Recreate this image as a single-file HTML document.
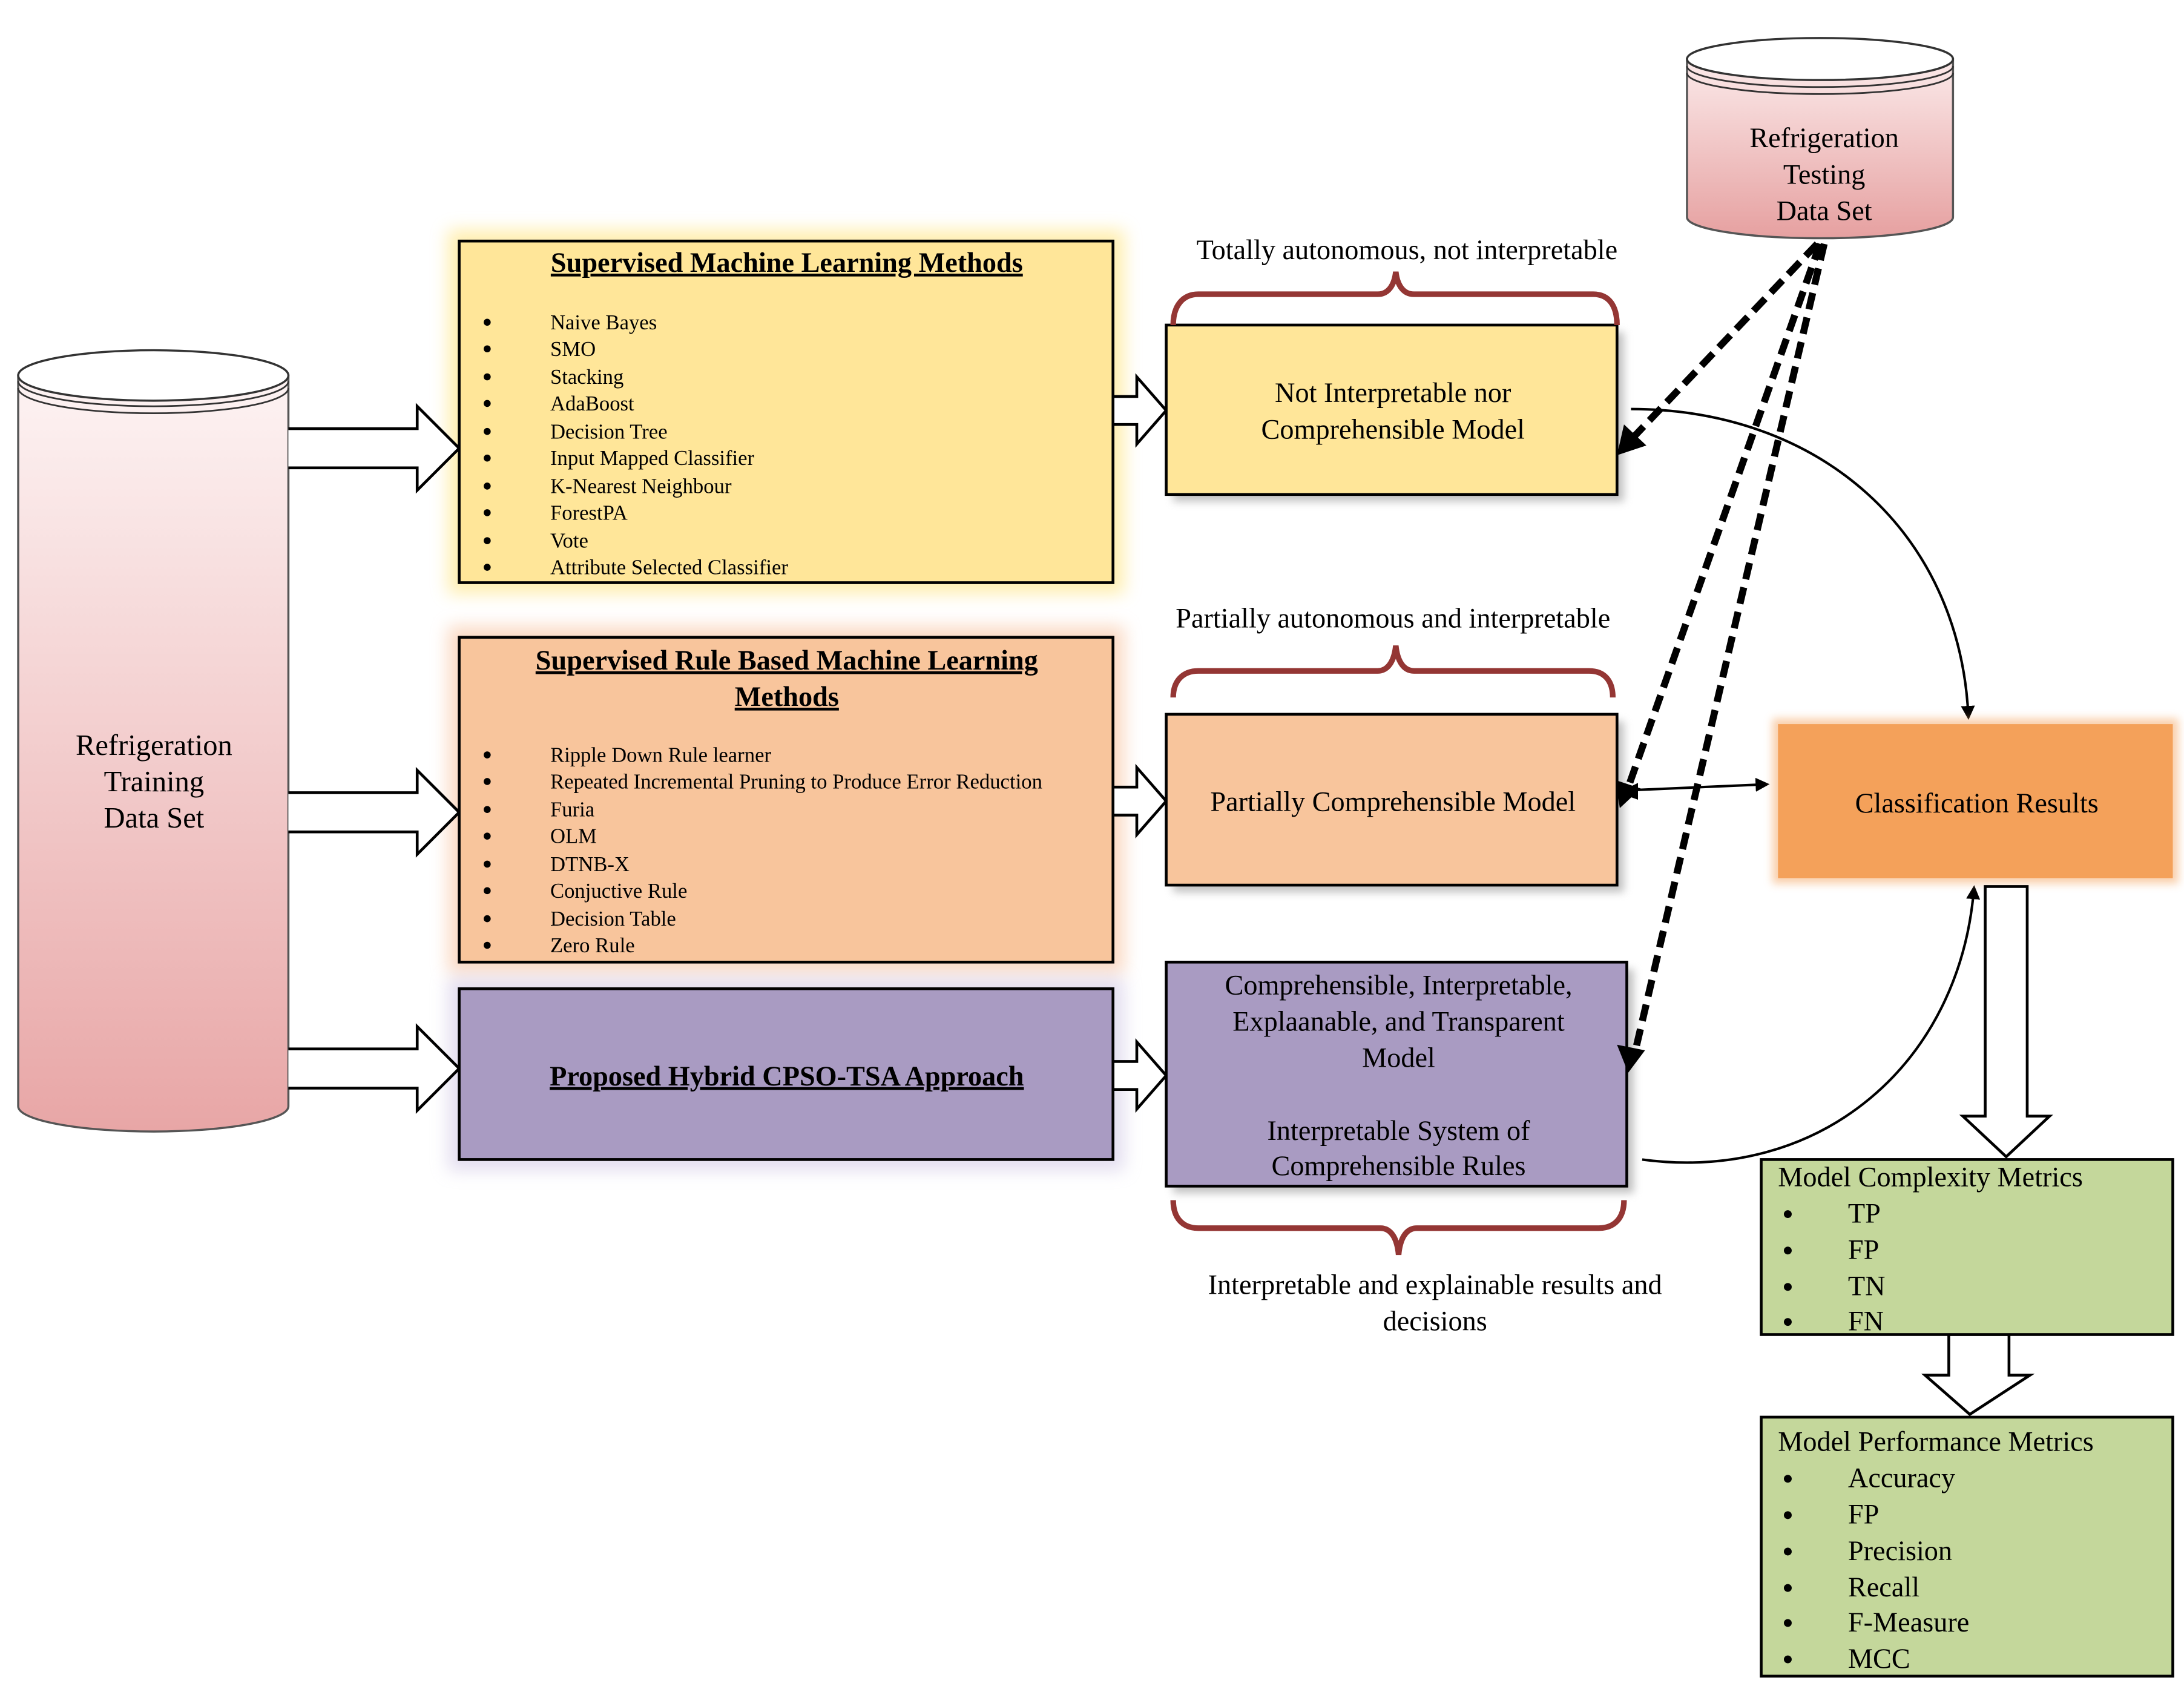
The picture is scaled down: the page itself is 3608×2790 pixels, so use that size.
<!DOCTYPE html>
<html><head><meta charset="utf-8"><style>
html,body{margin:0;padding:0;background:#fff;}
svg{display:block;}
text{font-family:"Liberation Serif",serif;fill:#000;}
</style></head><body>
<svg width="3608" height="2790" viewBox="0 0 1560 1206" xmlns="http://www.w3.org/2000/svg">
<defs>
<linearGradient id="cyl" x1="0" y1="0" x2="0" y2="1">
<stop offset="0" stop-color="#fdf3f3"/><stop offset="1" stop-color="#e8a6a6"/></linearGradient>
<linearGradient id="cyl2" x1="0" y1="0" x2="0" y2="1">
<stop offset="0" stop-color="#fbeaea"/><stop offset="1" stop-color="#e6a0a0"/></linearGradient>
<filter id="glowY" x="-10%" y="-10%" width="120%" height="120%"><feGaussianBlur stdDeviation="6"/></filter>
<filter id="sh" x="-10%" y="-10%" width="130%" height="130%"><feGaussianBlur stdDeviation="3"/></filter>
<marker id="ah" markerWidth="10" markerHeight="10" refX="8" refY="5" orient="auto" markerUnits="userSpaceOnUse"><path d="M0,0 L10,5 L0,10 Z" fill="#000"/></marker>
<marker id="ahb" markerWidth="18" markerHeight="18" refX="14" refY="9" orient="auto" markerUnits="userSpaceOnUse"><path d="M0,0 L18,9 L0,18 Z" fill="#000"/></marker>
</defs>

<!-- glows -->
<rect x="320" y="164" width="483" height="260" fill="#ffe37a" opacity="0.6" filter="url(#glowY)"/>
<rect x="320" y="447" width="483" height="248" fill="#f6b58a" opacity="0.5" filter="url(#glowY)"/>
<rect x="320" y="698" width="483" height="138" fill="#c8bde0" opacity="0.5" filter="url(#glowY)"/>

<!-- left cylinder -->
<path d="M13,268 L13,790 A96.5,18 0 0 0 206,790 L206,268 Z" fill="url(#cyl)" stroke="#555" stroke-width="1.5"/>
<ellipse cx="109.5" cy="268" rx="96.5" ry="18" fill="#fff" stroke="#333" stroke-width="1.5"/>
<path d="M13,272 A96.5,18 0 0 0 206,272 M13,277 A96.5,18 0 0 0 206,277" fill="none" stroke="#333" stroke-width="1.2"/>
<g font-size="21" text-anchor="middle">
<text x="110" y="539">Refrigeration</text><text x="110" y="565">Training</text><text x="110" y="591">Data Set</text></g>

<!-- block arrows from cylinder -->
<g fill="#fff" stroke="#000" stroke-width="2">
<path d="M206,306 L298,306 L298,290 L328,320 L298,350 L298,334 L206,334"/>
<path d="M206,566 L298,566 L298,550 L328,580 L298,610 L298,594 L206,594"/>
<path d="M206,749 L298,749 L298,733 L328,763 L298,793 L298,777 L206,777"/>
<path d="M796,283 L812,283 L812,269 L833,293 L812,317 L812,303 L796,303"/>
<path d="M796,562 L812,562 L812,548 L833,572 L812,596 L812,582 L796,582"/>
<path d="M796,758 L812,758 L812,744 L833,768 L812,792 L812,778 L796,778"/>
</g>

<!-- Box1 -->
<rect x="328" y="172" width="467" height="244" fill="#ffe699" stroke="#000" stroke-width="2"/>
<text x="562" y="194" font-size="20" font-weight="bold" text-anchor="middle" text-decoration="underline">Supervised Machine Learning Methods</text>
<g font-size="15">
<text x="393" y="235">Naive Bayes</text><text x="393" y="254">SMO</text><text x="393" y="274">Stacking</text><text x="393" y="293">AdaBoost</text><text x="393" y="313">Decision Tree</text><text x="393" y="332">Input Mapped Classifier</text><text x="393" y="352">K-Nearest Neighbour</text><text x="393" y="371">ForestPA</text><text x="393" y="391">Vote</text><text x="393" y="410">Attribute Selected Classifier</text>
</g>
<g fill="#000"><circle cx="348" cy="230" r="2.5"/><circle cx="348" cy="249" r="2.5"/><circle cx="348" cy="269" r="2.5"/><circle cx="348" cy="288" r="2.5"/><circle cx="348" cy="308" r="2.5"/><circle cx="348" cy="327" r="2.5"/><circle cx="348" cy="347" r="2.5"/><circle cx="348" cy="366" r="2.5"/><circle cx="348" cy="386" r="2.5"/><circle cx="348" cy="405" r="2.5"/></g>

<!-- Box2 -->
<rect x="328" y="455" width="467" height="232" fill="#f8c59c" stroke="#000" stroke-width="2"/>
<text x="562" y="478" font-size="20" font-weight="bold" text-anchor="middle" text-decoration="underline">Supervised Rule Based Machine Learning</text>
<text x="562" y="504" font-size="20" font-weight="bold" text-anchor="middle" text-decoration="underline">Methods</text>
<g font-size="15">
<text x="393" y="544">Ripple Down Rule learner</text><text x="393" y="563">Repeated Incremental Pruning to Produce Error Reduction</text><text x="393" y="583">Furia</text><text x="393" y="602">OLM</text><text x="393" y="622">DTNB-X</text><text x="393" y="641">Conjuctive Rule</text><text x="393" y="661">Decision Table</text><text x="393" y="680">Zero Rule</text>
</g>
<g fill="#000"><circle cx="348" cy="539" r="2.5"/><circle cx="348" cy="558" r="2.5"/><circle cx="348" cy="578" r="2.5"/><circle cx="348" cy="597" r="2.5"/><circle cx="348" cy="617" r="2.5"/><circle cx="348" cy="636" r="2.5"/><circle cx="348" cy="656" r="2.5"/><circle cx="348" cy="675" r="2.5"/></g>

<!-- Box3 -->
<rect x="328" y="706" width="467" height="122" fill="#a99bc2" stroke="#000" stroke-width="2"/>
<text x="562" y="775" font-size="20" font-weight="bold" text-anchor="middle" text-decoration="underline">Proposed Hybrid CPSO-TSA Approach</text>

<!-- right model boxes shadows -->
<rect x="838" y="237" width="322" height="121" fill="#999" opacity="0.6" filter="url(#sh)"/>
<rect x="838" y="515" width="322" height="122" fill="#999" opacity="0.6" filter="url(#sh)"/>
<rect x="838" y="692" width="329" height="160" fill="#999" opacity="0.6" filter="url(#sh)"/>
<rect x="833" y="232" width="322" height="121" fill="#ffe699" stroke="#000" stroke-width="2"/>
<rect x="833" y="510" width="322" height="122" fill="#f8c59c" stroke="#000" stroke-width="2"/>
<rect x="833" y="687" width="329" height="160" fill="#a99bc2" stroke="#000" stroke-width="2"/>
<g font-size="20" text-anchor="middle">
<text x="995" y="287">Not Interpretable nor</text><text x="995" y="313">Comprehensible Model</text>
<text x="995" y="579">Partially Comprehensible Model</text>
<text x="999" y="710">Comprehensible, Interpretable,</text><text x="999" y="736">Explaanable, and Transparent</text><text x="999" y="762">Model</text>
<text x="999" y="814">Interpretable System of</text><text x="999" y="839">Comprehensible Rules</text>
<text x="1005" y="185">Totally autonomous, not interpretable</text>
<text x="995" y="448">Partially autonomous and interpretable</text>
<text x="1025" y="924">Interpretable and explainable results and</text>
<text x="1025" y="950">decisions</text>
</g>

<!-- braces -->
<g fill="none" stroke="#943634" stroke-width="4">
<path d="M838,232 C838,218 845,210 856,210 L984,210 C992,210 996,203 997,194 C998,203 1002,210 1010,210 L1138,210 C1149,210 1155,218 1155,232"/>
<path d="M838,498 C838,486 845,479 856,479 L984,479 C992,479 996,471 997,461 C998,471 1002,479 1010,479 L1135,479 C1146,479 1152,486 1152,498"/>
<path d="M838,857 C838,870 845,877 856,877 L986,877 C994,877 998,885 999,896 C1000,885 1004,877 1012,877 L1142,877 C1153,877 1160,870 1160,857"/>
</g>

<!-- test cylinder -->
<path d="M1205,42 L1205,155 A95,15 0 0 0 1395,155 L1395,42 Z" fill="url(#cyl2)" stroke="#555" stroke-width="1.5"/>
<ellipse cx="1300" cy="42" rx="95" ry="15" fill="#fff" stroke="#333" stroke-width="1.5"/>
<path d="M1205,47 A95,15 0 0 0 1395,47 M1205,52 A95,15 0 0 0 1395,52" fill="none" stroke="#333" stroke-width="1.2"/>
<g font-size="20" text-anchor="middle"><text x="1303" y="105">Refrigeration</text><text x="1303" y="131">Testing</text><text x="1303" y="157">Data Set</text></g>

<!-- dashed arrows -->
<g stroke="#000" stroke-width="5" stroke-dasharray="12,6" fill="none">
<line x1="1298" y1="174" x2="1164" y2="315"/>
<line x1="1300" y1="174" x2="1162" y2="565"/>
<line x1="1303" y1="174" x2="1167" y2="755"/>
</g>
<g fill="#000">
<path d="M1155,325 L1160,303 L1176,318 Z"/>
<path d="M1157,577 L1154,557 L1172,563 Z"/>
<path d="M1163,766 L1155,746 L1175,750 Z"/>
</g>

<!-- curves -->
<path d="M1165,292 C1300,292 1400,380 1406,512" fill="none" stroke="#000" stroke-width="1.8" marker-end="url(#ah)"/>
<path d="M1173,828 C1300,845 1400,760 1410,634" fill="none" stroke="#000" stroke-width="1.8" marker-end="url(#ah)"/>
<line x1="1170" y1="564" x2="1262" y2="560" stroke="#000" stroke-width="1.8" marker-end="url(#ah)"/>
<path d="M1156,566 L1170,559 L1170,571 Z" fill="#000"/>

<!-- classification -->
<rect x="1266" y="513" width="290" height="118" fill="#f4a15a" opacity="0.5" filter="url(#sh)"/>
<rect x="1270" y="517" width="282" height="110" fill="#f4a15a"/>
<text x="1412" y="580" font-size="20" text-anchor="middle">Classification Results</text>

<!-- down arrows -->
<path d="M1418,633 L1448,633 L1448,797 L1464,797 L1433,826 L1402,797 L1418,797 Z" fill="#fff" stroke="#000" stroke-width="2"/>
<path d="M1392,953 L1435,953 L1435,982 L1450,982 L1407,1010 L1375,982 L1392,982 Z" fill="#fff" stroke="#000" stroke-width="2"/>

<!-- metric boxes -->
<rect x="1258" y="828" width="294" height="125" fill="#c4d79b" stroke="#000" stroke-width="2"/>
<rect x="1258" y="1012" width="294" height="185" fill="#c4d79b" stroke="#000" stroke-width="2"/>
<g font-size="20">
<text x="1270" y="847">Model Complexity Metrics</text>
<text x="1320" y="873">TP</text><text x="1320" y="899">FP</text><text x="1320" y="925">TN</text><text x="1320" y="950">FN</text>
<text x="1270" y="1036">Model Performance Metrics</text>
<text x="1320" y="1062">Accuracy</text><text x="1320" y="1088">FP</text><text x="1320" y="1114">Precision</text><text x="1320" y="1140">Recall</text><text x="1320" y="1165">F-Measure</text><text x="1320" y="1191">MCC</text>
</g>
<g fill="#000">
<circle cx="1277" cy="867" r="2.8"/><circle cx="1277" cy="893" r="2.8"/><circle cx="1277" cy="919" r="2.8"/><circle cx="1277" cy="944" r="2.8"/>
<circle cx="1277" cy="1056" r="2.8"/><circle cx="1277" cy="1082" r="2.8"/><circle cx="1277" cy="1108" r="2.8"/><circle cx="1277" cy="1134" r="2.8"/><circle cx="1277" cy="1159" r="2.8"/><circle cx="1277" cy="1185" r="2.8"/>
</g>
</svg>
</body></html>
